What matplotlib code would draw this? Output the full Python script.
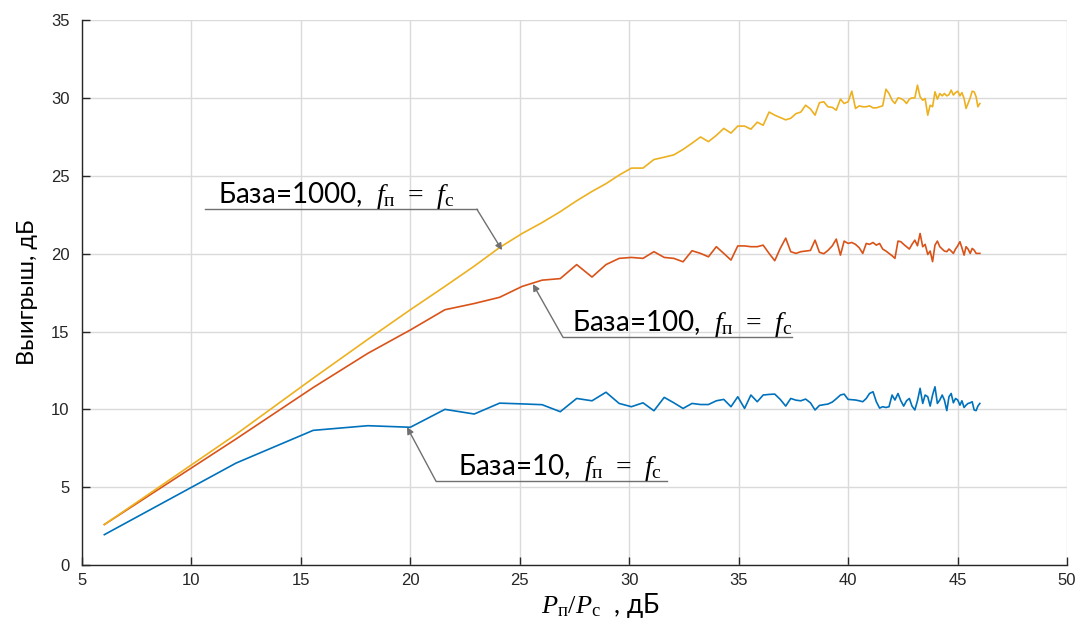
import matplotlib

matplotlib.use("Agg")
import matplotlib.pyplot as plt

# Ratio of jammer to signal power, dB (shared by all three curves)
snr_db = [
    6.02, 12.04, 15.56, 18.06, 20.00, 21.58, 22.92, 24.08, 25.11, 26.02,
    26.85, 27.60, 28.30, 28.94, 29.54, 30.10, 30.63, 31.13, 31.60, 32.04,
    32.46, 32.87, 33.26, 33.62, 33.98, 34.32, 34.65, 34.96, 35.27, 35.56,
    35.85, 36.12, 36.39, 36.65, 36.90, 37.15, 37.38, 37.62, 37.84, 38.06,
    38.28, 38.49, 38.69, 38.89, 39.08, 39.28, 39.46, 39.65, 39.82, 40.00,
    40.17, 40.34, 40.51, 40.67, 40.83, 40.98, 41.14, 41.29, 41.44, 41.58,
    41.73, 41.87, 42.01, 42.14, 42.28, 42.41, 42.54, 42.67, 42.80, 42.92,
    43.05, 43.17, 43.29, 43.41, 43.52, 43.64, 43.75, 43.86, 43.97, 44.08,
    44.19, 44.30, 44.40, 44.51, 44.61, 44.71, 44.81, 44.91, 45.01, 45.11,
    45.20, 45.30, 45.39, 45.48, 45.58, 45.67, 45.76, 45.85, 45.93, 46.02,
]

gain_base10 = [
    1.95, 6.55, 8.65, 8.95, 8.85, 10.00, 9.70, 10.40, 10.35, 10.30,
    9.85, 10.70, 10.55, 11.10, 10.38, 10.17, 10.42, 9.91, 10.77, 10.42,
    10.06, 10.38, 10.31, 10.31, 10.55, 10.64, 10.17, 10.81, 10.06, 10.92,
    10.49, 10.92, 10.96, 10.98, 10.64, 10.21, 10.70, 10.59, 10.55, 10.66,
    10.42, 9.96, 10.25, 10.30, 10.34, 10.47, 10.68, 10.92, 10.98, 10.64,
    10.62, 10.60, 10.55, 10.49, 10.70, 11.02, 11.13, 10.49, 10.08, 10.17,
    10.12, 10.17, 10.92, 10.60, 11.02, 10.55, 10.21, 10.55, 10.70, 10.21,
    9.96, 10.55, 11.35, 10.38, 10.92, 10.81, 10.21, 10.92, 11.45, 10.38,
    10.60, 10.92, 10.60, 9.92, 10.81, 11.02, 10.42, 10.70, 10.60, 10.27,
    10.55, 10.12, 10.27, 10.38, 10.42, 10.49, 9.96, 9.92, 10.21, 10.38,
]

gain_base100 = [
    2.60, 8.10, 11.40, 13.60, 15.10, 16.40, 16.80, 17.20, 17.90, 18.30,
    18.40, 19.30, 18.50, 19.30, 19.70, 19.76, 19.70, 20.13, 19.76, 19.70,
    19.48, 20.19, 20.02, 19.80, 20.45, 20.02, 19.59, 20.50, 20.50, 20.45,
    20.45, 20.55, 20.02, 19.55, 20.34, 21.00, 20.13, 20.02, 20.13, 20.17,
    20.21, 20.87, 20.09, 20.00, 20.21, 20.51, 20.94, 19.91, 20.81, 20.66,
    20.72, 20.60, 20.38, 20.02, 20.66, 20.60, 20.72, 20.55, 20.66, 20.30,
    20.17, 20.02, 19.87, 19.70, 20.81, 20.77, 20.60, 20.45, 20.30, 20.60,
    20.87, 20.51, 21.30, 20.45, 20.60, 19.95, 20.17, 19.49, 20.55, 20.81,
    20.45, 20.30, 20.17, 20.13, 20.30, 20.17, 20.02, 20.30, 20.51, 20.77,
    20.38, 19.91, 20.45, 20.30, 20.02, 20.34, 20.23, 20.02, 20.02, 20.02,
]

gain_base1000 = [
    2.60, 8.40, 12.00, 14.50, 16.40, 17.90, 19.20, 20.40, 21.30, 22.00,
    22.70, 23.40, 24.00, 24.50, 25.05, 25.50, 25.50, 26.05, 26.20, 26.35,
    26.70, 27.10, 27.50, 27.20, 27.60, 28.05, 27.75, 28.20, 28.20, 28.00,
    28.45, 28.25, 29.10, 28.90, 28.75, 28.60, 28.70, 29.00, 29.10, 29.54,
    29.30, 28.90, 29.70, 29.76, 29.44, 29.40, 29.22, 29.93, 29.65, 29.76,
    30.44, 29.33, 29.50, 29.44, 29.44, 29.50, 29.37, 29.37, 29.44, 29.50,
    30.57, 30.29, 29.86, 29.65, 30.01, 29.97, 29.86, 29.65, 29.93, 30.01,
    30.01, 30.83, 30.08, 29.86, 29.97, 28.90, 29.54, 29.44, 30.40, 29.93,
    30.29, 30.14, 30.29, 30.14, 30.22, 30.51, 30.19, 30.35, 30.44, 30.14,
    30.35, 29.97, 29.33, 29.65, 30.01, 30.44, 30.40, 30.08, 29.44, 29.65,
]

series_labels = [
    r"База=10,  $f_{\mathrm{п}}\;\,=\;\,f_{\mathrm{с}}$",
    r"База=100,  $f_{\mathrm{п}}\;\,=\;\,f_{\mathrm{с}}$",
    r"База=1000,  $f_{\mathrm{п}}\;\,=\;\,f_{\mathrm{с}}$",
]

x_ticks = [5, 10, 15, 20, 25, 30, 35, 40, 45, 50]
y_ticks = [0, 5, 10, 15, 20, 25, 30, 35]

BLUE = "#0072BD"
ORANGE = "#D95319"
YELLOW = "#EDB120"
AXIS_GRAY = "#262626"
NOTE_GRAY = "#707070"

plt.rcParams["mathtext.fontset"] = "custom"
plt.rcParams["mathtext.rm"] = "Liberation Serif"
plt.rcParams["mathtext.it"] = "Liberation Serif:italic"
LABEL_FONT = ["Lato", "Open Sans", "DejaVu Sans"]


def add_note(ax, text, text_xy, line_x, line_y, tip_xy):
    # underline + leader arrow, like MATLAB's text-arrow annotation
    ax.plot(line_x, [line_y, line_y], color=NOTE_GRAY, lw=1.0, clip_on=False)
    start_x = line_x[0] if tip_xy[0] < line_x[0] else line_x[1]
    ax.annotate(
        "",
        xy=tip_xy,
        xytext=(start_x, line_y),
        arrowprops=dict(arrowstyle="-|>", color=NOTE_GRAY, lw=1.0, mutation_scale=10, shrinkA=0, shrinkB=0),
    )
    ax.text(text_xy[0], text_xy[1], text, fontsize=20, family=LABEL_FONT, color="black", va="baseline")


def main():
    fig = plt.figure(figsize=(10.82, 6.32), dpi=100)
    ax = fig.add_axes([0.0758, 0.106, 0.9103, 0.862])

    ax.plot(snr_db, gain_base10, color=BLUE, lw=1.2)
    ax.plot(snr_db, gain_base100, color=ORANGE, lw=1.2)
    ax.plot(snr_db, gain_base1000, color=YELLOW, lw=1.2)

    ax.set_xlim(5, 50)
    ax.set_ylim(0, 35)
    ax.set_xticks(x_ticks)
    ax.set_yticks(y_ticks)
    ax.grid(True, color="#DADADA", lw=1.0)
    ax.set_axisbelow(True)

    for side in ("top", "right"):
        ax.spines[side].set_visible(False)
    for side in ("left", "bottom"):
        ax.spines[side].set_color(AXIS_GRAY)
        ax.spines[side].set_linewidth(1.0)

    ax.tick_params(direction="in", length=6, width=1.0, color=AXIS_GRAY, labelcolor=AXIS_GRAY, labelsize=12)
    ax.tick_params(axis="y", pad=9)
    ax.tick_params(axis="x", pad=6)
    for lbl in ax.get_xticklabels() + ax.get_yticklabels():
        lbl.set_family("Liberation Sans")

    ax.set_ylabel("Выигрыш, дБ", fontsize=17, family=LABEL_FONT, labelpad=9)
    ax.set_xlabel(r"$P_{\mathrm{п}}/P_{\mathrm{с}}$  , дБ", fontsize=19, family=LABEL_FONT)
    ax.xaxis.set_label_coords(0.526, -0.048)

    add_note(ax, series_labels[2], (11.2, 23.25), [10.62, 23.04], 22.86, (24.19, 20.23))
    add_note(ax, series_labels[1], (27.4, 15.03), [26.97, 37.43], 14.64, (25.6, 18.05))
    add_note(ax, series_labels[0], (22.2, 5.78), [21.17, 31.72], 5.39, (19.85, 8.86))

    fig.savefig("out.png", dpi=100)
    plt.close(fig)


if __name__ == "__main__":
    main()
